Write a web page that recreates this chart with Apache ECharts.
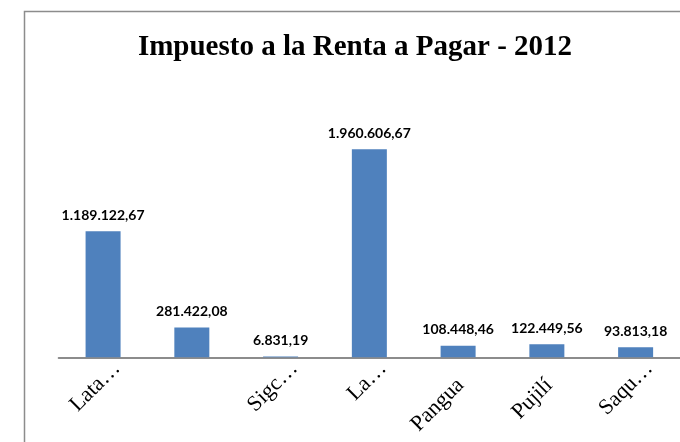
<!DOCTYPE html>
<html>
<head>
<meta charset="utf-8">
<script src="https://cdn.jsdelivr.net/npm/echarts@6/dist/echarts.min.js"></script>
<style>
html,body{margin:0;padding:0;background:#fff;}
#c{width:680px;height:442px;}
</style>
</head>
<body>
<div id="c"></div>
<script>
var titleText = "Impuesto a la Renta a Pagar - 2012";
var categories = ["Lata\u2026", "", "Sigc\u2026", "La\u2026", "Pangua", "Pujil\u00ed", "Saqu\u2026"];
var values = [1189122.67, 281422.08, 6831.19, 1960606.67, 108448.46, 122449.56, 93813.18];
var yMax = 2500000;

function fmt(v) {
  var parts = v.toFixed(2).split(".");
  var intPart = parts[0].replace(/\B(?=(\d{3})+(?!\d))/g, ".");
  return intPart + "," + parts[1];
}

var chart = echarts.init(document.getElementById("c"), null, {renderer: "canvas"});
chart.setOption({
  animation: false,
  backgroundColor: "#ffffff",
  graphic: [{
    type: "rect",
    left: 22, top: 9,
    shape: {width: 720, height: 520},
    style: {fill: "none", stroke: "#8c8c8c", lineWidth: 1.5},
    silent: true
  }],
  title: {
    text: titleText,
    left: 350,
    textAlign: "center",
    top: 28,
    textStyle: {fontFamily: "Liberation Serif", fontWeight: "bold", fontSize: 29, color: "#000"}
  },
  grid: {left: 58.7, top: 92.1, width: 627.7, bottom: 84.7, containLabel: false},
  xAxis: {
    type: "category",
    data: categories,
    axisLine: {lineStyle: {color: "#8c8c8c", width: 2}},
    axisTick: {show: false},
    axisLabel: {
      rotate: 45,
      interval: 0,
      margin: -6,
      verticalAlign: "top",
      lineHeight: 17,
      fontFamily: "Liberation Serif",
      fontSize: 22,
      color: "#000",
      formatter: function (v) {
        if (!v) return "";
        return (v.indexOf("\u2026") >= 0 ? "{t|" : "{n|") + v + "}";
      },
      rich: {
        t: {fontFamily: "Liberation Serif", fontSize: 22, color: "#000", lineHeight: 17, padding: [22, 0, 0, 0]},
        n: {fontFamily: "Liberation Serif", fontSize: 22, color: "#000", lineHeight: 17, padding: [30, 20, 0, 0]}
      }
    }
  },
  yAxis: {
    type: "value",
    min: 0,
    max: yMax,
    show: false,
    splitLine: {show: false}
  },
  series: [{
    type: "bar",
    data: values,
    barWidth: 35,
    itemStyle: {color: "#4F81BD"},
    label: {
      show: true,
      position: "top",
      distance: 9,
      fontFamily: "Lato",
      fontWeight: "bold",
      fontSize: 14,
      color: "#000",
      formatter: function (p) { return fmt(p.value); }
    }
  }]
});
</script>
</body>
</html>
